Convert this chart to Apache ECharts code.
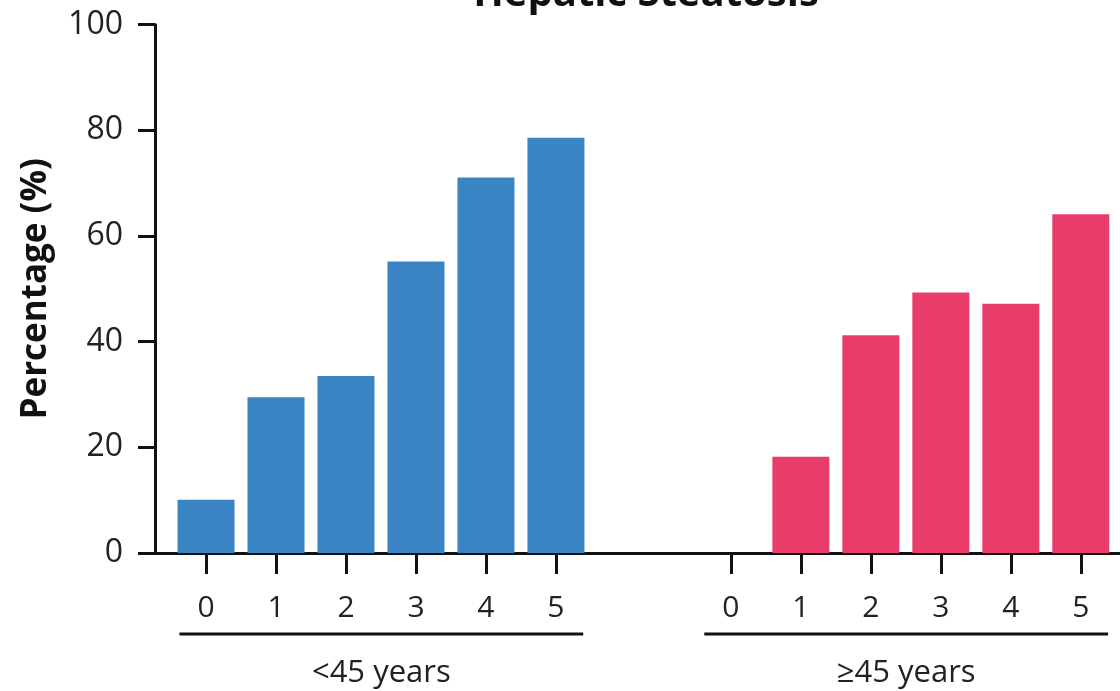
<!DOCTYPE html>
<html>
<head>
<meta charset="utf-8">
<script src="https://cdn.jsdelivr.net/npm/echarts@6/dist/echarts.min.js"></script>
<style>
html,body{margin:0;padding:0;background:#fff;}
#c{width:1120px;height:691px;}
</style>
</head>
<body>
<div id="c"></div>
<script>
const title = "Hepatic Steatosis";
const yAxisName = "Percentage (%)";
const categories = ["0", "1", "2", "3", "4", "5"];
const groupNames = ["<45 years", "\u226545 years"];
const youngValues = [10.1, 29.5, 33.5, 55.2, 71.1, 78.6];
const oldValues = [0, 18.2, 41.2, 49.3, 47.2, 64.1];
const yTicks = [0, 20, 40, 60, 80, 100];
const groupOffset = 7.5;
const colors = ["#3b84c3", "#e83d6b"];

const FONT = "'Open Sans', 'DejaVu Sans', sans-serif";
const chart = echarts.init(document.getElementById('c'), null, {renderer: 'canvas'});

const pos = [];
const labelMap = {};
categories.forEach((c, i) => { pos.push(i); labelMap[i] = c; });
categories.forEach((c, i) => { pos.push(groupOffset + i); labelMap[groupOffset + i] = c; });

const seriesData = [youngValues, oldValues].map((vals, g) =>
  vals.map((v, i) => [g * groupOffset + i, v]));

chart.setOption({
  animation: false,
  title: {
    text: title, left: 641, textAlign: 'center', top: -30,
    textStyle: {fontFamily: FONT, fontWeight: 'bold', fontSize: 40, color: '#111'}
  },
  grid: {left: 155, right: 0, top: 24.7, bottom: 138, containLabel: false},
  xAxis: {
    type: 'value', min: -0.729, max: 13.06,
    splitLine: {show: false},
    axisLine: {show: true, onZero: false, lineStyle: {color: '#111', width: 3}},
    axisTick: {show: true, customValues: pos, length: 21, inside: false, lineStyle: {color: '#111', width: 3}},
    axisLabel: {
      customValues: pos, margin: 40, fontFamily: FONT, fontSize: 30, color: '#222',
      formatter: v => labelMap[Math.round(v * 10) / 10] ?? ''
    }
  },
  yAxis: {
    type: 'value', min: yTicks[0], max: yTicks[yTicks.length - 1], interval: yTicks[1] - yTicks[0],
    name: yAxisName, nameLocation: 'middle', nameGap: 101,
    nameTextStyle: {fontFamily: FONT, fontWeight: 'bold', fontSize: 35, color: '#111'},
    splitLine: {show: false},
    axisLine: {show: true, onZero: false, lineStyle: {color: '#111', width: 3}},
    axisTick: {show: true, length: 17, lineStyle: {color: '#111', width: 3}},
    axisLabel: {margin: 32, fontFamily: FONT, fontSize: 32, color: '#222'}
  },
  series: seriesData.map((d, g) => ({
    type: 'bar', data: d, barWidth: 57, barGap: '-100%',
    itemStyle: {color: colors[g]}
  }))
});

// group brackets and labels placed through the axis scale
function drawGroups() {
  const y0 = chart.convertToPixel({yAxisIndex: 0}, 0);
  const elements = [];
  groupNames.forEach((name, g) => {
    const a = chart.convertToPixel({xAxisIndex: 0}, g * groupOffset - 0.38);
    const b = chart.convertToPixel({xAxisIndex: 0}, g * groupOffset + categories.length - 1 + 0.39);
    elements.push({
      type: 'line', shape: {x1: a, y1: y0 + 81, x2: b, y2: y0 + 81},
      style: {stroke: '#111', lineWidth: 3}
    });
    elements.push({
      type: 'text', x: (a + b) / 2, y: y0 + 120,
      style: {text: name, fontFamily: FONT, fontSize: 31, fill: '#222', align: 'center', verticalAlign: 'middle'}
    });
  });
  chart.setOption({graphic: elements});
}
drawGroups();
</script>
</body>
</html>
